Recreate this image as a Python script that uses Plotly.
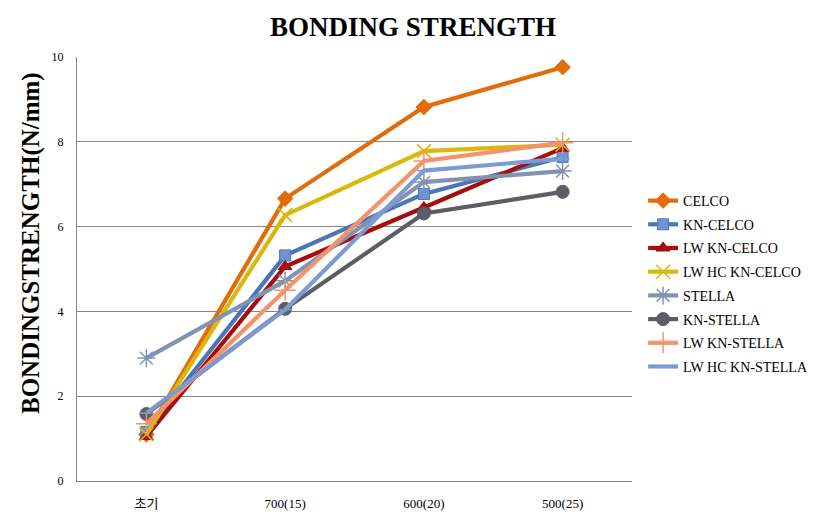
import plotly.graph_objects as go

categories = ["초기", "700(15)", "600(20)", "500(25)"]

celco = [1.10, 6.66, 8.82, 9.76]
kn_celco = [1.16, 5.32, 6.77, 7.64]
lw_kn_celco = [1.05, 5.06, 6.45, 7.85]
lw_hc_kn_celco = [1.10, 6.27, 7.78, 7.93]
stella = [2.90, 4.72, 7.05, 7.31]
kn_stella = [1.58, 4.06, 6.31, 6.82]
lw_kn_stella = [1.35, 4.50, 7.55, 7.98]
lw_hc_kn_stella = [1.60, 4.04, 7.32, 7.60]

series = [
    ("CELCO", celco, "#E36C0A", "diamond", 12, None),
    ("KN-CELCO", kn_celco, "#4A76B8", "square", 11, "#6F93D3"),
    ("LW KN-CELCO", lw_kn_celco, "#A80D0D", "triangle-up", 12, None),
    ("LW HC KN-CELCO", lw_hc_kn_celco, "#D9B80B", "x-thin", 14, None),
    ("STELLA", stella, "#8193B3", "asterisk", 15, None),
    ("KN-STELLA", kn_stella, "#5B5E64", "circle", 13, None),
    ("LW KN-STELLA", lw_kn_stella, "#F3936A", "cross-thin", 15, None),
    ("LW HC KN-STELLA", lw_hc_kn_stella, "#7E9BD1", "line-ew", 10, None),
]

fig = go.Figure()
for i, (name, vals, color, sym, size, fill) in enumerate(series):
    thin = sym in ("x-thin", "asterisk", "cross-thin", "line-ew")
    marker = dict(symbol=sym, size=size, color=fill or color)
    if thin:
        marker["line"] = dict(width=1.5, color=color)
    else:
        marker["line"] = dict(width=1, color=color)
    fig.add_trace(go.Scatter(
        x=categories, y=vals, name=name, mode="lines+markers",
        line=dict(color=color, width=4.2),
        marker=marker, legendgroup=f"g{i}",
    ))

serif = "Liberation Serif, Times New Roman, Noto Sans CJK KR, serif"

W, H = 827, 527
L, R, T, B = 77, 195, 57, 46
PW, PH = W - L - R, H - T - B
fig.update_layout(
    width=W, height=H,
    margin=dict(l=L, r=R, t=T, b=B),
    paper_bgcolor="white", plot_bgcolor="white",
    title=dict(text="<b>BONDING STRENGTH</b>", x=(413 - L) / PW, xref="paper", xanchor="center",
               y=1 - 27 / H, yanchor="middle",
               font=dict(family=serif, size=27, color="black")),
    font=dict(family=serif, size=12, color="black"),
    showlegend=True,
    legend=dict(x=1.02, xanchor="left", y=(481 - 284) / PH, yanchor="middle",
                font=dict(family=serif, size=14, color="black"),
                tracegroupgap=2.5, itemwidth=30, bgcolor="rgba(0,0,0,0)"),
    xaxis=dict(type="category", range=[-0.5, 3.5], showgrid=False,
               showline=True, linecolor="#868686", linewidth=1,
               ticks="", tickfont=dict(family=serif, size=13),
               ticklabelstandoff=10, fixedrange=True),
    yaxis=dict(range=[0, 10], dtick=2, showgrid=True, gridcolor="#868686", gridwidth=1,
               showline=True, linecolor="#868686", linewidth=1, zeroline=False,
               ticks="", tickfont=dict(family=serif, size=12),
               ticklabelstandoff=10, fixedrange=True),
    annotations=[dict(text="<b>BONDINGSTRENGTH(N/mm)</b>", textangle=-90,
                      xref="paper", yref="paper", x=(31 - L) / PW, y=(481 - 243) / PH,
                      xanchor="center", yanchor="middle", showarrow=False,
                      font=dict(family=serif, size=25, color="black"))],
)

fig.write_html("out.html", config={"displayModeBar": False},
               post_script="document.body.style.margin='0';document.body.style.overflow='hidden';")
